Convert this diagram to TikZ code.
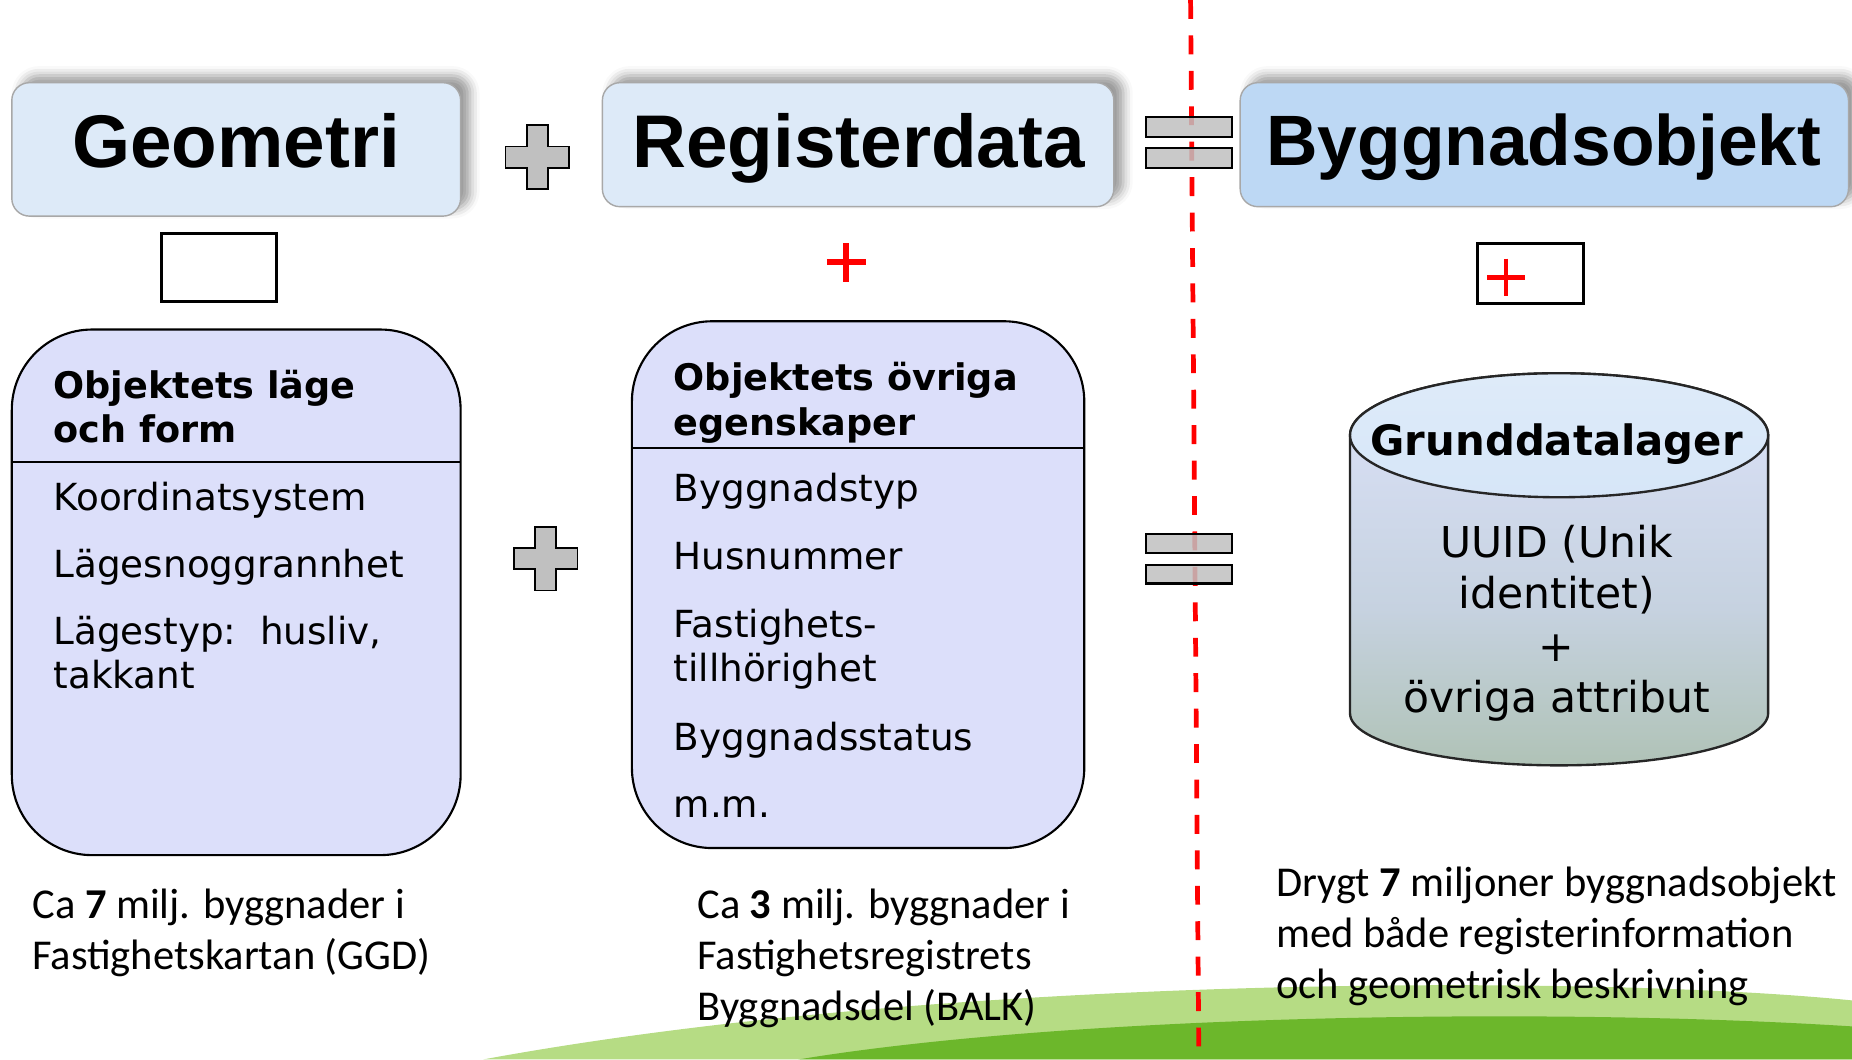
\documentclass[tikz,border=0pt]{standalone}
\usepackage{fontspec}
\setmainfont{DejaVu Sans}
\newfontfamily\arialf{Liberation Sans}
\newfontfamily\verdf{DejaVu Sans}
\newfontfamily\calibf{Carlito}
\usetikzlibrary{shadows.blur}
\definecolor{tfill}{HTML}{DDEAF8}
\definecolor{tfilldark}{HTML}{BDD8F4}
\definecolor{tborder}{HTML}{A8A8A8}
\definecolor{lav}{HTML}{DCDFFA}
\definecolor{plusgrey}{HTML}{C0C0C0}
\definecolor{lgreen}{HTML}{B6DC84}
\definecolor{dgreen}{HTML}{6CB72B}
\definecolor{cyltop}{HTML}{D6E6F8}
\definecolor{cyllav}{HTML}{DCE2F9}
\definecolor{cylmid}{HTML}{C6D2E0}
\definecolor{cylbot}{HTML}{A8BDA8}
\pgfdeclareverticalshading{cylshade}{100bp}{color(0bp)=(cylbot); color(18bp)=(cylbot); color(45bp)=(cylmid); color(75bp)=(cyllav); color(100bp)=(cyltop)}
\begin{document}
\begin{tikzpicture}[x=0.5pt,y=-0.5pt,
  titlebox/.style={fill=#1, draw=tborder, line width=0.6pt, rounded corners=7.5pt,
    blur shadow={shadow xshift=4pt, shadow yshift=3pt, shadow blur radius=4pt, shadow opacity=40}},
  ttl/.style={font={\arialf\bfseries\fontsize{#1}{36pt}\selectfont}, inner sep=0pt, anchor=base},
  lavbox/.style={fill=lav, draw=black, line width=0.9pt, rounded corners=34pt},
  divider/.style={draw=black, line width=0.8pt},
  boxhead/.style={font={\verdf\bfseries\fontsize{15.5pt}{19pt}\selectfont}, inner sep=0pt, anchor=base west, align=left},
  boxitem/.style={font={\verdf\fontsize{15.8pt}{18.5pt}\selectfont}, inner sep=0pt, anchor=base west, align=left},
  cylhead/.style={font={\verdf\bfseries\fontsize{17.7pt}{21pt}\selectfont}, inner sep=0pt, anchor=base},
  cyltext/.style={font={\verdf\fontsize{18pt}{21.5pt}\selectfont}, inner sep=0pt, anchor=base, align=center},
  btxt/.style={font={\calibf\fontsize{18pt}{21.5pt}\selectfont}, inner sep=0pt, anchor=base west, align=left},
  plusicon/.style={fill=plusgrey, draw=black, line width=0.7pt},
  eqbar/.style={fill=plusgrey, fill opacity=0.85, draw=black, line width=0.9pt},
  smallrect/.style={fill=white, draw=black, line width=1.3pt},
  redplus/.style={draw=red, line width=#1},
  sepline/.style={draw=red, line width=2pt, dash pattern=on 8pt off 7pt},
  pics/greyplus/.style={code={
    \draw[plusicon] (-9,-27) -- (9,-27) -- (9,-9) -- (27,-9) -- (27,9) -- (9,9) -- (9,27)
      -- (-9,27) -- (-9,9) -- (-27,9) -- (-27,-9) -- (-9,-9) -- cycle;}}
]
\useasboundingbox (0,0) rectangle (1568,897);

% green hill
\fill[lgreen] (409,897) .. controls (800,825) and (1350,825) .. (1568,847) -- (1568,897) -- cycle;
\fill[dgreen] (676,897) .. controls (900,860) and (1300,852) .. (1568,869) -- (1568,897) -- cycle;

% red dashed separator
\coordinate (septop) at (1008,0);
\coordinate (sepbot) at (1015,897);
\draw[sepline] (septop) -- (sepbot);

% title boxes
\draw[titlebox=tfill] (10,70) rectangle (390,183);
\draw[titlebox=tfill] (510,70) rectangle (943,175);
\draw[titlebox=tfilldark] (1050,70) rectangle (1565,175);
\node[ttl=31.6pt] (geo) at (200,142) {Geometri};
\node[ttl=31.6pt] (reg) at (727,142) {Registerdata};
\node[ttl=30.2pt] (byg) at (1307,140) {Byggnadsobjekt};

% plus / equal icons
\pic (plusA) at (455,133) {greyplus};
\pic (plusB) at (462,473) {greyplus};
\draw[eqbar] (970,99) rectangle (1043,116);
\draw[eqbar] (970,125) rectangle (1043,142);
\draw[eqbar] (970,452) rectangle (1043,468);
\draw[eqbar] (970,478) rectangle (1043,494);

% small symbols
\draw[smallrect] (137,198) rectangle (234,255);
\draw[redplus=2.5pt] (700,222) -- (733,222) (716,206) -- (716,239);
\draw[smallrect] (1251,206) rectangle (1341,257);
\draw[redplus=2pt] (1259,235) -- (1291,235) (1275,219) -- (1275,251);

% left box
\draw[lavbox] (10,279) rectangle (390,724);
\draw[divider] (10,391) -- (390,391);
\node[boxhead] (lhead) at (45,375) {Objektets läge\\och form};
\node[boxitem] (l1) at (45,432) {Koordinatsystem};
\node[boxitem] (l2) at (45,489) {Lägesnoggrannhet};
\node[boxitem] (l3) at (45,583) {Lägestyp:\ \ husliv,\\takkant};

% middle box
\draw[lavbox] (535,272) rectangle (918,718);
\draw[divider] (535,379) -- (918,379);
\node[boxhead] (mhead) at (570,369) {Objektets övriga\\egenskaper};
\node[boxitem] (m1) at (570,425) {Byggnadstyp};
\node[boxitem] (m2) at (570,482) {Husnummer};
\node[boxitem] (m3) at (570,577) {Fastighets-\\tillhörighet};
\node[boxitem] (m4) at (570,635) {Byggnadsstatus};
\node[boxitem] (m5) at (570,692) {m.m.};

% cylinder
\shade[shading=cylshade, draw=black!85, line width=1pt]
  (1143,368.5) -- (1143,604) arc[start angle=180, end angle=360, x radius=88.5pt, y radius=22pt]
  -- (1497,368.5) arc[start angle=0, end angle=180, x radius=88.5pt, y radius=26.25pt] -- cycle;
\shade[top color=cyltop!80!white, bottom color=cyltop, draw=black!85, line width=1pt]
  (1320,368.5) ellipse [x radius=88.5pt, y radius=26.25pt];
\node[cylhead] (cylh) at (1318,386) {Grunddatalager};
\node[cyltext] (cyl1) at (1318,515) {UUID (Unik\\identitet)};
\node[cyltext] (cyl2) at (1318,560) {+};
\node[cyltext] (cyl3) at (1318,603) {övriga attribut};

% bottom texts
\node[btxt] (b1) at (27,821) {Ca \textbf{7} milj. byggnader i\\Fastighetskartan (GGD)};
\node[btxt] (b2) at (590,864) {Ca \textbf{3} milj. byggnader i\\Fastighetsregistrets\\Byggnadsdel (BALK)};
\node[btxt] (b3) at (1080,845) {Drygt \textbf{7} miljoner byggnadsobjekt\\med både registerinformation\\och geometrisk beskrivning};
\end{tikzpicture}
\end{document}
